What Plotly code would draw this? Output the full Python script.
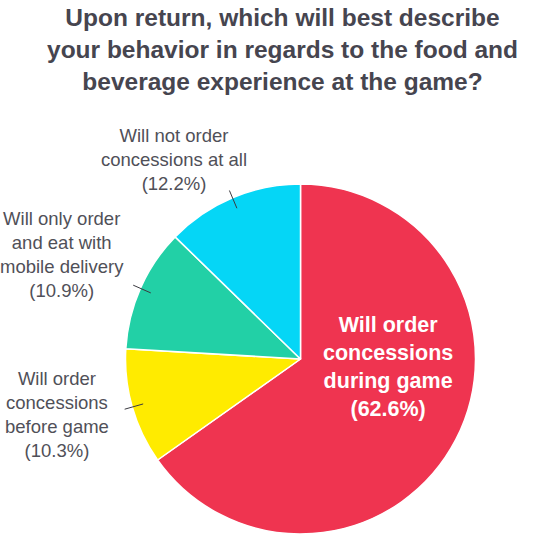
import math
import plotly.graph_objects as go

W, H = 551, 538

title_text = "Upon return, which will best describe<br>your behavior in regards to the food and<br>beverage experience at the game?"
categories = ["Will order concessions during game",
              "Will order concessions before game",
              "Will only order and eat with mobile delivery",
              "Will not order concessions at all"]
label_lines = [["Will order", "concessions", "during game"],
               ["Will order", "concessions", "before game"],
               ["Will only order", "and eat with", "mobile delivery"],
               ["Will not order", "concessions at all"]]
values = [62.6, 10.3, 10.9, 12.2]
colors = ["#EF3450", "#FFEB00", "#22D0A6", "#05D6F6"]

# layout (pixels)
cx, cy, R = 300.5, 359.0, 175.0
label_pos = [(388, 367), (57, 414), (62, 254), (174, 159)]


def px(x):
    return x / W


def py(y):
    return 1 - y / H


fig = go.Figure(go.Pie(
    labels=categories, values=values, sort=False, direction="clockwise",
    rotation=0, marker=dict(colors=colors, line=dict(color="white", width=1.5)),
    textinfo="none", hoverinfo="label+percent",
    domain=dict(x=[px(cx - R), px(cx + R)], y=[py(cy + R), py(cy - R)]),
    showlegend=False,
))

annotations = [dict(
    text="<b>" + title_text + "</b>", x=px(282), y=py(2), xref="paper", yref="paper",
    xanchor="center", yanchor="top", showarrow=False, align="center",
    font=dict(family="Liberation Sans, Arial, sans-serif", size=24.5, color="#46454F"),
)]

shapes = []
total = sum(values)
cum = 0.0
for i, v in enumerate(values):
    mid = (cum + v / 2) / total * 2 * math.pi
    cum += v
    txt = "<br>".join(label_lines[i]) + "<br>(%.1f%%)" % v
    lx, ly = label_pos[i]
    if i == 0:
        font = dict(family="Liberation Sans, Arial, sans-serif", size=21.5, color="white")
        txt = "<b>" + txt + "</b>"
    else:
        font = dict(family="Liberation Sans, Arial, sans-serif", size=18.5, color="#505058")
        r0, r1 = 0.935 * R, 1.045 * R
        shapes.append(dict(
            type="line", xref="paper", yref="paper",
            x0=px(cx + r0 * math.sin(mid)), y0=py(cy - r0 * math.cos(mid)),
            x1=px(cx + r1 * math.sin(mid)), y1=py(cy - r1 * math.cos(mid)),
            line=dict(color="#3a3a40", width=1),
        ))
    annotations.append(dict(
        text=txt, x=px(lx), y=py(ly), xref="paper", yref="paper",
        xanchor="center", yanchor="middle", showarrow=False, align="center", font=font,
    ))

fig.update_layout(
    width=W, height=H, margin=dict(l=0, r=0, t=0, b=0),
    paper_bgcolor="white", plot_bgcolor="white",
    annotations=annotations, shapes=shapes,
)
fig.write_html("out.html")
